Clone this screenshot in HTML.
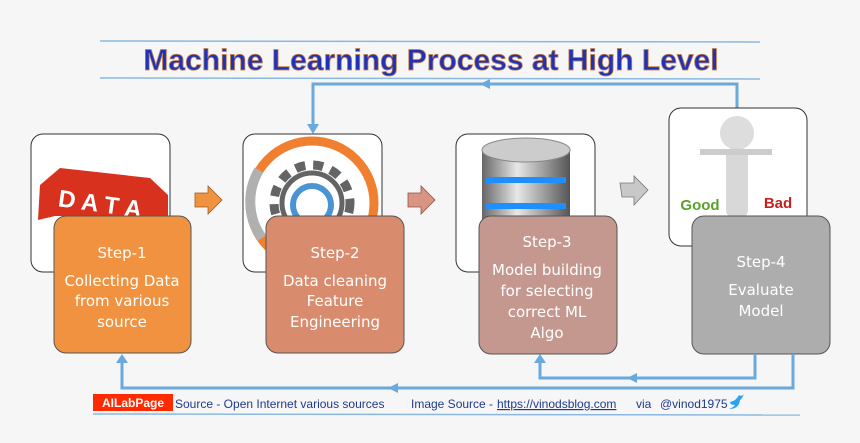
<!DOCTYPE html>
<html><head><meta charset="utf-8"><style>
body{margin:0;background:#f6f6f6;}
svg{display:block}
.st{font-family:"DejaVu Sans","Liberation Sans",sans-serif;fill:#fff;text-anchor:middle;font-size:15px}
.ft{font-family:"Liberation Sans",sans-serif;font-size:12px;fill:#1f3a8f}
</style></head><body>
<svg width="860" height="443" viewBox="0 0 860 443" xmlns="http://www.w3.org/2000/svg">
<defs>
<linearGradient id="db" x1="0" x2="1"><stop offset="0" stop-color="#666"/><stop offset="0.4" stop-color="#e8e8e8"/><stop offset="1" stop-color="#555"/></linearGradient>
</defs>
<rect width="860" height="443" fill="#f6f6f6"/>
<line x1="100" y1="41" x2="760" y2="42" stroke="#8ab8e0" stroke-width="1.5"/>
<line x1="100" y1="78" x2="760" y2="79" stroke="#8ab8e0" stroke-width="1.5"/>
<text x="431" y="70" text-anchor="middle" font-family="Liberation Sans,sans-serif" font-weight="bold" font-size="30" fill="#2033b8" stroke="#c8834a" stroke-width="0.8">Machine Learning Process at High Level</text>
<polyline points="737,108 737,84 313,84 313,128" fill="none" stroke="#69a9dc" stroke-width="3"/>
<polygon points="307,124 319,124 313,134" fill="#69a9dc"/>
<polygon points="480,84 490,79 490,89" fill="#69a9dc"/>

<rect x="31" y="134" width="139" height="138" rx="12" fill="#fff" stroke="#333" stroke-width="1"/>
<path d="M40 185 L60 168 L150 178 L168 195 L168 216 L55 216 L38 220 Z" fill="#d8321f"/>
<text x="100" y="212" text-anchor="middle" font-family="Liberation Sans,sans-serif" font-weight="bold" font-size="24" fill="#fff" transform="rotate(8 100 205)">D A T A</text>
<rect x="243" y="134" width="139" height="138" rx="12" fill="#fff" stroke="#333" stroke-width="1"/>
<circle cx="312" cy="203" r="62" fill="none" stroke="#f08030" stroke-width="9"/>
<path d="M259 170 A62 62 0 0 0 262 238" fill="none" stroke="#b0b0b0" stroke-width="10"/>
<circle cx="312" cy="203" r="38" fill="none" stroke="#646464" stroke-width="9" stroke-dasharray="10 8"/>
<circle cx="312" cy="203" r="30" fill="none" stroke="#646464" stroke-width="5"/>
<circle cx="312" cy="205" r="19" fill="none" stroke="#4a94d4" stroke-width="6"/>
<rect x="456" y="134" width="139" height="138" rx="12" fill="#fff" stroke="#333" stroke-width="1"/>
<rect x="482" y="150" width="88" height="70" fill="url(#db)"/>
<ellipse cx="526" cy="150" rx="44" ry="12" fill="#ccc" stroke="#888"/>
<rect x="486" y="177" width="80" height="6" fill="#1e8fff"/>
<rect x="486" y="203" width="80" height="6" fill="#1e8fff"/>
<rect x="669" y="108" width="138" height="138" rx="12" fill="#fff" stroke="#333" stroke-width="1"/>
<circle cx="737" cy="133" r="17" fill="#ddd"/>
<rect x="726" y="148" width="22" height="70" rx="8" fill="#d8d8d8"/>
<line x1="700" y1="152" x2="772" y2="152" stroke="#ccc" stroke-width="6"/>
<text x="700" y="210" text-anchor="middle" font-family="Liberation Sans,sans-serif" font-weight="bold" font-size="15" fill="#5aa02c">Good</text>
<text x="778" y="208" text-anchor="middle" font-family="Liberation Sans,sans-serif" font-weight="bold" font-size="15" fill="#c81e1e">Bad</text>

<rect x="54" y="216" width="137" height="137" rx="12" fill="#f0923f" stroke="#555" stroke-width="1"/>
<rect x="266" y="216" width="138" height="137" rx="12" fill="#d98b6e" stroke="#555" stroke-width="1"/>
<rect x="479" y="216" width="138" height="138" rx="12" fill="#c4978f" stroke="#555" stroke-width="1"/>
<rect x="692" y="216" width="138" height="138" rx="12" fill="#adadad" stroke="#555" stroke-width="1"/>
<text class="st" x="122" y="258">Step-1</text>
<text class="st" x="122" y="286">Collecting Data</text>
<text class="st" x="122" y="306">from various</text>
<text class="st" x="122" y="327">source</text>
<text class="st" x="335" y="258">Step-2</text>
<text class="st" x="335" y="286">Data cleaning</text>
<text class="st" x="335" y="306">Feature</text>
<text class="st" x="335" y="327">Engineering</text>
<text class="st" x="547" y="247">Step-3</text>
<text class="st" x="547" y="275">Model building</text>
<text class="st" x="547" y="296">for selecting</text>
<text class="st" x="547" y="317">correct ML</text>
<text class="st" x="547" y="338">Algo</text>
<text class="st" x="761" y="267">Step-4</text>
<text class="st" x="761" y="295">Evaluate</text>
<text class="st" x="761" y="316">Model</text>

<polygon points="195,193 208,193 208,186 222,200 208,214 208,207 195,207" fill="#f0923f" stroke="#a05a20" stroke-width="0.8"/>
<polygon points="408,193 421,193 421,186 435,200 421,214 421,207 408,207" fill="#d99583" stroke="#905040" stroke-width="0.8"/>
<polygon points="620,183 634,183 634,176 648,190 634,205 634,197 622,197" fill="#c8c8c8" stroke="#777" stroke-width="0.8"/>

<polyline points="755,354 755,378 540,378 540,360" fill="none" stroke="#69a9dc" stroke-width="3"/>
<polygon points="534,363 546,363 540,354" fill="#69a9dc"/>
<polygon points="627,378 637,373 637,383" fill="#69a9dc"/>
<polyline points="793,354 793,388 122,388 122,360" fill="none" stroke="#69a9dc" stroke-width="3"/>
<polygon points="116,363 128,363 122,354" fill="#69a9dc"/>
<polygon points="388,388 398,383 398,393" fill="#69a9dc"/>

<line x1="93" y1="414" x2="800" y2="415" stroke="#8ab8e0" stroke-width="1.5"/>
<rect x="93" y="394" width="80" height="17" fill="#ff2a00"/>
<text x="133" y="407" text-anchor="middle" font-family="Liberation Sans,sans-serif" font-weight="bold" font-size="12" fill="#fff">AILabPage</text>
<text class="ft" x="175" y="408">Source -  Open Internet  various sources</text>
<text class="ft" x="411" y="408">Image Source -</text>
<text class="ft" x="497" y="408" text-decoration="underline">https://vinodsblog.com</text>
<text class="ft" x="636" y="408">via</text>
<text class="ft" x="660" y="408">@vinod1975</text>
<path d="M730 402 q6 -1 9 -7 q3 2 5 -1 q-2 5 -4 6 q-1 9 -11 9 q5 -2 6 -4 q-5 0 -5 -3 z" fill="#2aa3ef"/>
</svg>
</body></html>
